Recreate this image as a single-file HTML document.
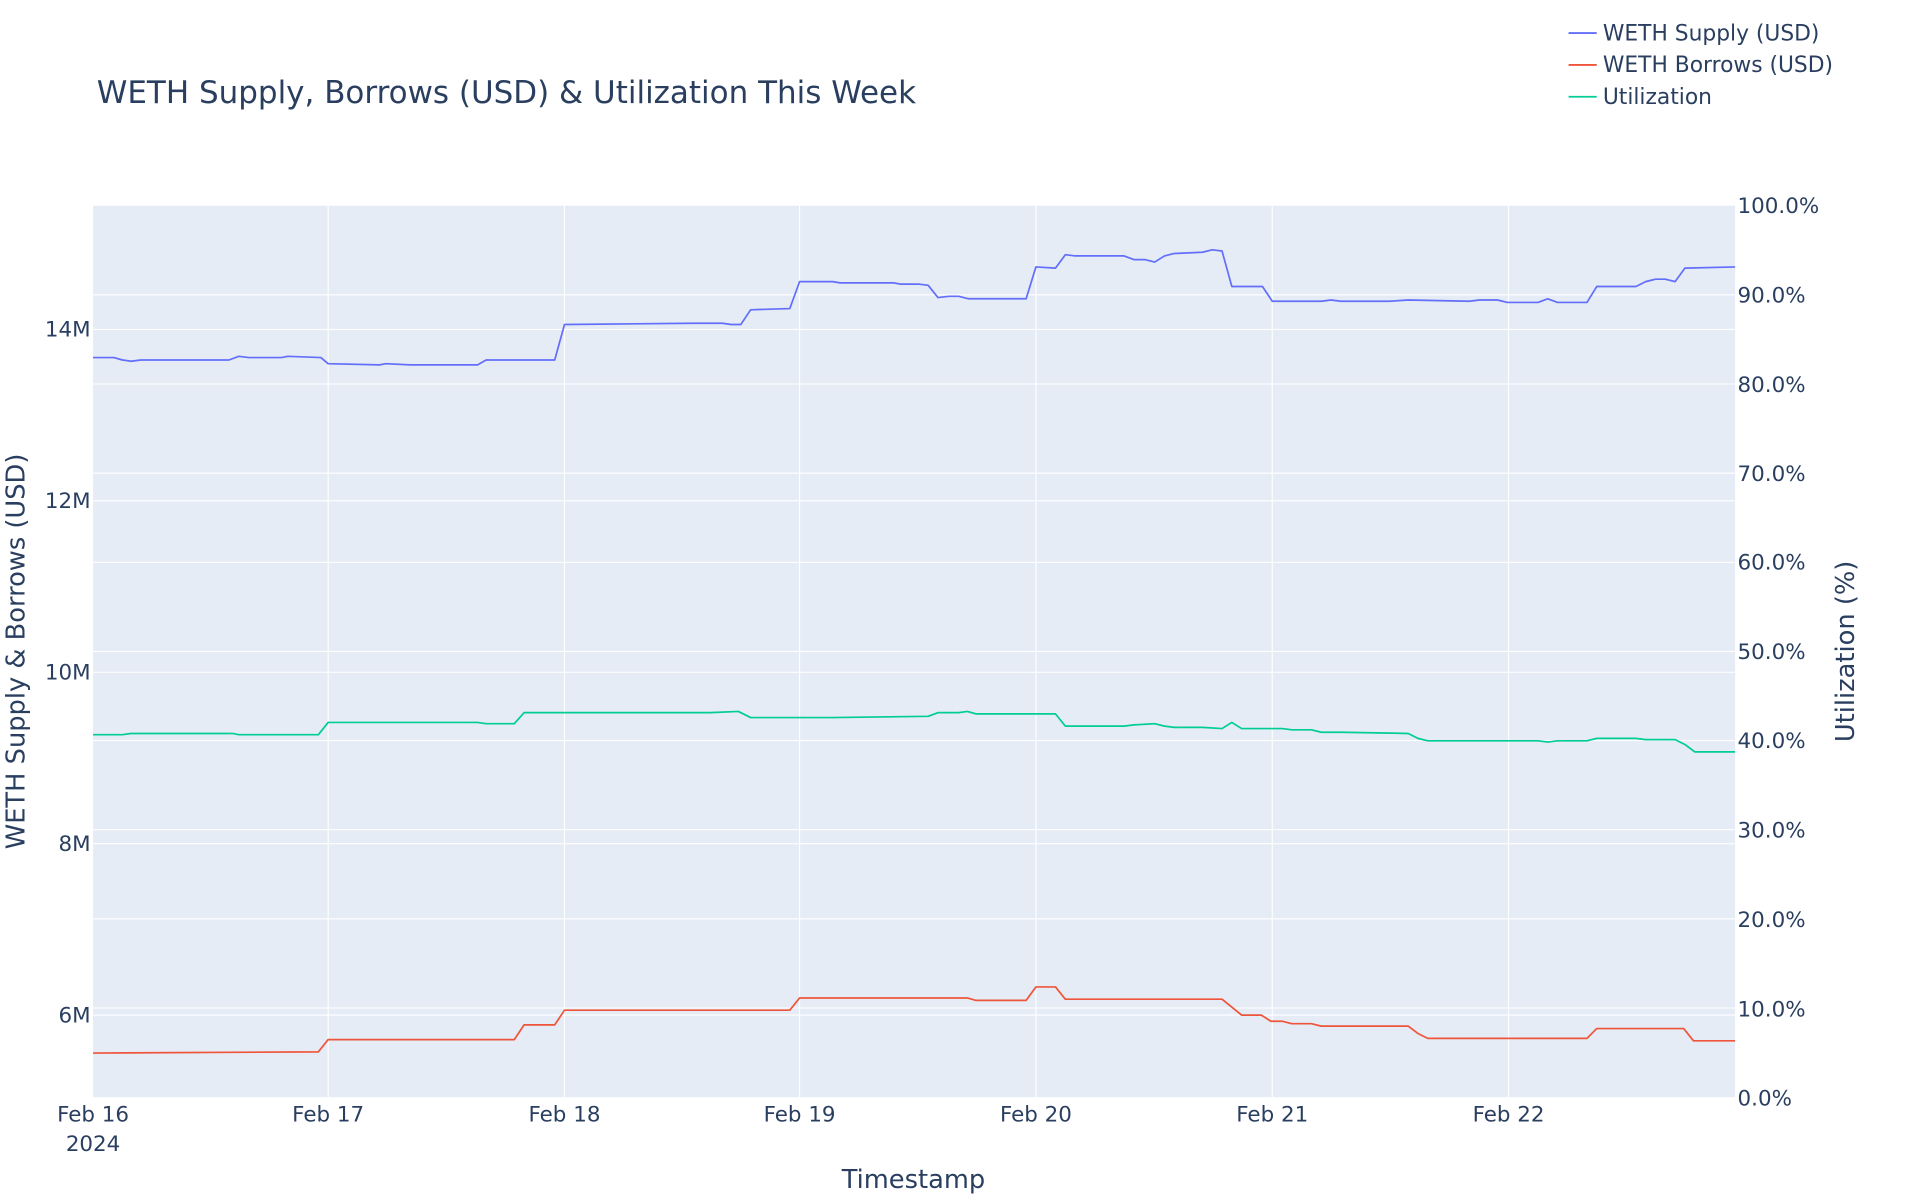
<!DOCTYPE html>
<html><head><meta charset="utf-8"><style>
html,body{margin:0;padding:0;background:#fff;}
svg{display:block;font-family:"DejaVu Sans","Liberation Sans",sans-serif;fill:#2a3f5f;}
</style></head><body>
<svg width="1920" height="1200" viewBox="0 0 1568 980" xmlns="http://www.w3.org/2000/svg">
<rect x="76" y="168" width="1341" height="728" fill="#e5ecf6"/>
<g stroke="#fff" stroke-width="0.9">
<line x1="76" x2="1417" y1="269" y2="269"/><line x1="76" x2="1417" y1="409" y2="409"/><line x1="76" x2="1417" y1="549" y2="549"/><line x1="76" x2="1417" y1="689" y2="689"/><line x1="76" x2="1417" y1="829" y2="829"/>
<line x1="76" x2="1417" y1="823.2" y2="823.2"/><line x1="76" x2="1417" y1="750.4" y2="750.4"/><line x1="76" x2="1417" y1="677.6" y2="677.6"/><line x1="76" x2="1417" y1="604.8" y2="604.8"/><line x1="76" x2="1417" y1="532" y2="532"/><line x1="76" x2="1417" y1="459.2" y2="459.2"/><line x1="76" x2="1417" y1="386.4" y2="386.4"/><line x1="76" x2="1417" y1="313.6" y2="313.6"/><line x1="76" x2="1417" y1="240.8" y2="240.8"/>
<line x1="268" x2="268" y1="168" y2="896"/><line x1="461" x2="461" y1="168" y2="896"/><line x1="653" x2="653" y1="168" y2="896"/><line x1="846" x2="846" y1="168" y2="896"/><line x1="1039" x2="1039" y1="168" y2="896"/><line x1="1232" x2="1232" y1="168" y2="896"/>
</g>
<g fill="none" stroke-width="1.4" stroke-linejoin="round">
<polyline stroke="#636efa" points="76,292 93,292 100,294 107,295 115,294 187,294 195,291 203,292 230,292 235,291 262,292 268,297 310,298 315,297 335,298 390,298 397,294 453,294 461,265 567,264 580,264 590,264 597,265 605,265 613,253 645,252 653,230 680,230 686,231 730,231 735,232 750,232 758,233 766,243 775,242 783,242 791,244 838,244 846,218 862,219 870,208 878,209 918,209 926,212 935,212 943,214 951,209 959,207 982,206 990,204 998,205 1006,234 1031,234 1039,246 1079,246 1087,245 1095,246 1135,246 1150,245 1200,246 1208,245 1223,245 1231,247 1256,247 1264,244 1272,247 1296,247 1304,234 1336,234 1344,230 1352,228 1360,228 1368,230 1376,219 1417,218"/>
<polyline stroke="#ef553b" points="76,860 260,859 268,849 420,849 428,837 453,837 461,825 645,825 653,815 790,815 797,817 838,817 846,806 862,806 870,816 998,816 1014,829 1030,829 1038,834 1047,834 1055,836 1071,836 1079,838 1150,838 1158,844 1166,848 1296,848 1304,840 1375,840 1383,850 1417,850"/>
<polyline stroke="#00cc96" points="76,600 100,600 107,599 190,599 195,600 260,600 268,590 390,590 397,591 420,591 428,582 580,582 603,581 613,586 680,586 758,585 766,582 783,582 790,581 797,583 862,583 870,593 918,593 926,592 943,591 951,593 959,594 982,594 998,595 1006,590 1014,595 1030,595 1047,595 1055,596 1071,596 1079,598 1095,598 1150,599 1158,603 1166,605 1256,605 1264,606 1272,605 1296,605 1304,603 1336,603 1344,604 1368,604 1376,608 1384,614 1417,614"/>
</g>
<g font-size="17.5" text-anchor="end">
<text x="74" y="275">14M</text><text x="74" y="415">12M</text><text x="74" y="555">10M</text><text x="74" y="695">8M</text><text x="74" y="835">6M</text>
</g>
<g font-size="17.5">
<text x="1419" y="174">100.0%</text><text x="1419" y="247">90.0%</text><text x="1419" y="320">80.0%</text><text x="1419" y="393">70.0%</text><text x="1419" y="465">60.0%</text><text x="1419" y="538">50.0%</text><text x="1419" y="611">40.0%</text><text x="1419" y="684">30.0%</text><text x="1419" y="757">20.0%</text><text x="1419" y="830">10.0%</text><text x="1419" y="903">0.0%</text>
</g>
<g font-size="17.5" text-anchor="middle">
<text x="76" y="916">Feb 16</text><text x="76" y="940">2024</text><text x="268" y="916">Feb 17</text><text x="461" y="916">Feb 18</text><text x="653" y="916">Feb 19</text><text x="846" y="916">Feb 20</text><text x="1039" y="916">Feb 21</text><text x="1232" y="916">Feb 22</text>
</g>
<text x="746" y="970" font-size="21" text-anchor="middle">Timestamp</text>
<text transform="translate(20,532) rotate(-90)" font-size="21" text-anchor="middle">WETH Supply &amp; Borrows (USD)</text>
<text transform="translate(1514,532) rotate(-90)" font-size="21" text-anchor="middle">Utilization (%)</text>
<text x="79" y="84" font-size="25.3">WETH Supply, Borrows (USD) &amp; Utilization This Week</text>
<g stroke-width="1.5"><line x1="1281" x2="1304" y1="27" y2="27" stroke="#636efa"/><line x1="1281" x2="1304" y1="53" y2="53" stroke="#ef553b"/><line x1="1281" x2="1304" y1="79" y2="79" stroke="#00cc96"/></g>
<g font-size="17.8"><text x="1309" y="33">WETH Supply (USD)</text><text x="1309" y="59">WETH Borrows (USD)</text><text x="1309" y="85">Utilization</text></g>
</svg>
</body></html>
